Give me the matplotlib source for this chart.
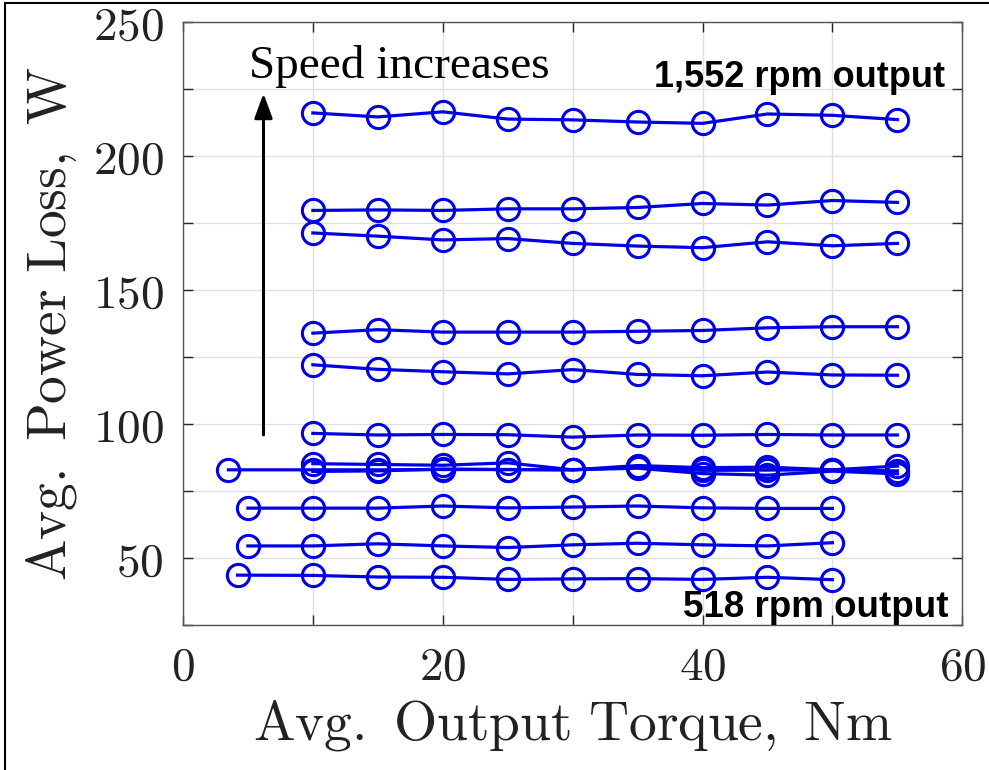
import matplotlib
matplotlib.use("Agg")
import matplotlib.pyplot as plt
from matplotlib.lines import Line2D

plt.rcParams["mathtext.fontset"] = "cm"

# torque grids (Nm)
x_full = [10, 15, 20, 25, 30, 35, 40, 45, 50, 55]
x_low = [5, 10, 15, 20, 25, 30, 35, 40, 45, 50]
x_lowest = [4.2, 10, 15, 20, 25, 30, 35, 40, 45, 50]
x_ext = [3.5, 10, 15, 20, 25, 30, 35, 40, 45, 50, 55]

# average power loss (W), one list per speed
loss_1552 = [216.2, 214.7, 216.6, 213.9, 213.6, 212.8, 212.3, 215.8, 215.3, 213.7]
loss_s2 = [179.8, 180.0, 179.8, 180.4, 180.4, 180.9, 182.4, 181.8, 183.5, 182.8]
loss_s3 = [171.4, 170.2, 168.8, 169.3, 167.5, 166.5, 165.9, 168.1, 166.6, 167.5]
loss_s4 = [134.0, 135.3, 134.4, 134.4, 134.4, 134.7, 135.0, 136.0, 136.4, 136.4]
loss_s5 = [122.2, 120.5, 119.6, 118.8, 120.4, 118.6, 118.1, 119.5, 118.4, 118.3]
loss_s6 = [96.6, 96.0, 96.2, 96.1, 95.2, 96.0, 95.9, 96.2, 96.0, 96.0]
loss_s7 = [85.3, 85.0, 84.7, 85.6, 83.0, 84.6, 83.8, 84.0, 83.0, 84.4]
loss_s8 = [83.0, 83.0, 83.0, 83.1, 83.1, 83.0, 84.0, 82.8, 82.9, 83.0, 82.6]
loss_s9 = [82.4, 82.6, 83.3, 83.1, 83.0, 83.6, 81.6, 81.0, 82.5, 81.5]
loss_s10 = [68.7, 68.7, 68.7, 69.5, 68.8, 69.1, 69.5, 68.8, 68.6, 68.6]
loss_s11 = [54.6, 54.6, 55.4, 54.6, 54.0, 55.0, 55.6, 55.0, 54.6, 55.8]
loss_518 = [43.7, 43.6, 43.0, 42.9, 42.1, 42.3, 42.4, 42.1, 42.9, 42.0]

series = [
    (x_full, loss_1552), (x_full, loss_s2), (x_full, loss_s3),
    (x_full, loss_s4), (x_full, loss_s5), (x_full, loss_s6),
    (x_full, loss_s7), (x_ext, loss_s8), (x_full, loss_s9),
    (x_low, loss_s10), (x_low, loss_s11), (x_lowest, loss_518),
]

x_ticks = [0, 10, 20, 30, 40, 50, 60]
x_ticklabels = ["0", "", "20", "", "40", "", "60"]
y_ticks = [25, 50, 75, 100, 125, 150, 175, 200, 225, 250]
y_ticklabels = ["", "50", "", "100", "", "150", "", "200", "", "250"]

blue = "#0000e6"

fig = plt.figure(figsize=(9.89, 7.70), dpi=100)
ax = fig.add_axes([0.185, 0.188, 0.788, 0.783])

for xs, ys in series:
    ax.plot(xs, ys, color=blue, lw=2.3, marker="o", ms=16, mfc="none",
            mec=blue, mew=2.2)

ax.set_xlim(0, 60)
ax.set_ylim(25, 250)
ax.set_xticks(x_ticks)
ax.set_xticklabels([f"${t}$" if t else "" for t in x_ticklabels])
ax.set_yticks(y_ticks)
ax.set_yticklabels([f"${t}$" if t else "" for t in y_ticklabels])
ax.tick_params(direction="in", length=7, width=1, top=True, right=True,
               labelsize=34, colors="#262626", labelcolor="#222222", pad=14)
ax.grid(True, color="#e0e0e0", lw=1)
ax.set_axisbelow(True)
for s in ax.spines.values():
    s.set_color("#555555")
    s.set_linewidth(1)

ax.set_xlabel(r"$\mathrm{Avg.\ Output\ Torque,\ Nm}$", fontsize=40,
              color="#222222", labelpad=6)
ax.set_ylabel(r"$\mathrm{Avg.\ Power\ Loss,\ W}$", fontsize=40,
              color="#222222", labelpad=10)

ax.annotate("", xy=(6.2, 224.5), xytext=(6.2, 95),
            arrowprops=dict(arrowstyle="-|>,head_length=1.5,head_width=0.55",
                            color="black", lw=2.2))
ax.text(5.1, 233.5, "Speed increases", fontsize=34,
        family="Liberation Serif", ha="left", va="center")
ax.text(58.7, 229.5, "1,552 rpm output", fontsize=26, fontweight="bold",
        family="Liberation Sans", ha="right", va="center")
ax.text(58.9, 31.6, "518 rpm output", fontsize=26.5, fontweight="bold",
        family="Liberation Sans", ha="right", va="center")

# frame lines on the left and top edges of the figure
fig.add_artist(Line2D([0.005, 0.005], [0, 0.996], color="black", lw=1.5))
fig.add_artist(Line2D([0.005, 1], [0.996, 0.996], color="black", lw=1.5))

fig.savefig("out.png", dpi=100)
